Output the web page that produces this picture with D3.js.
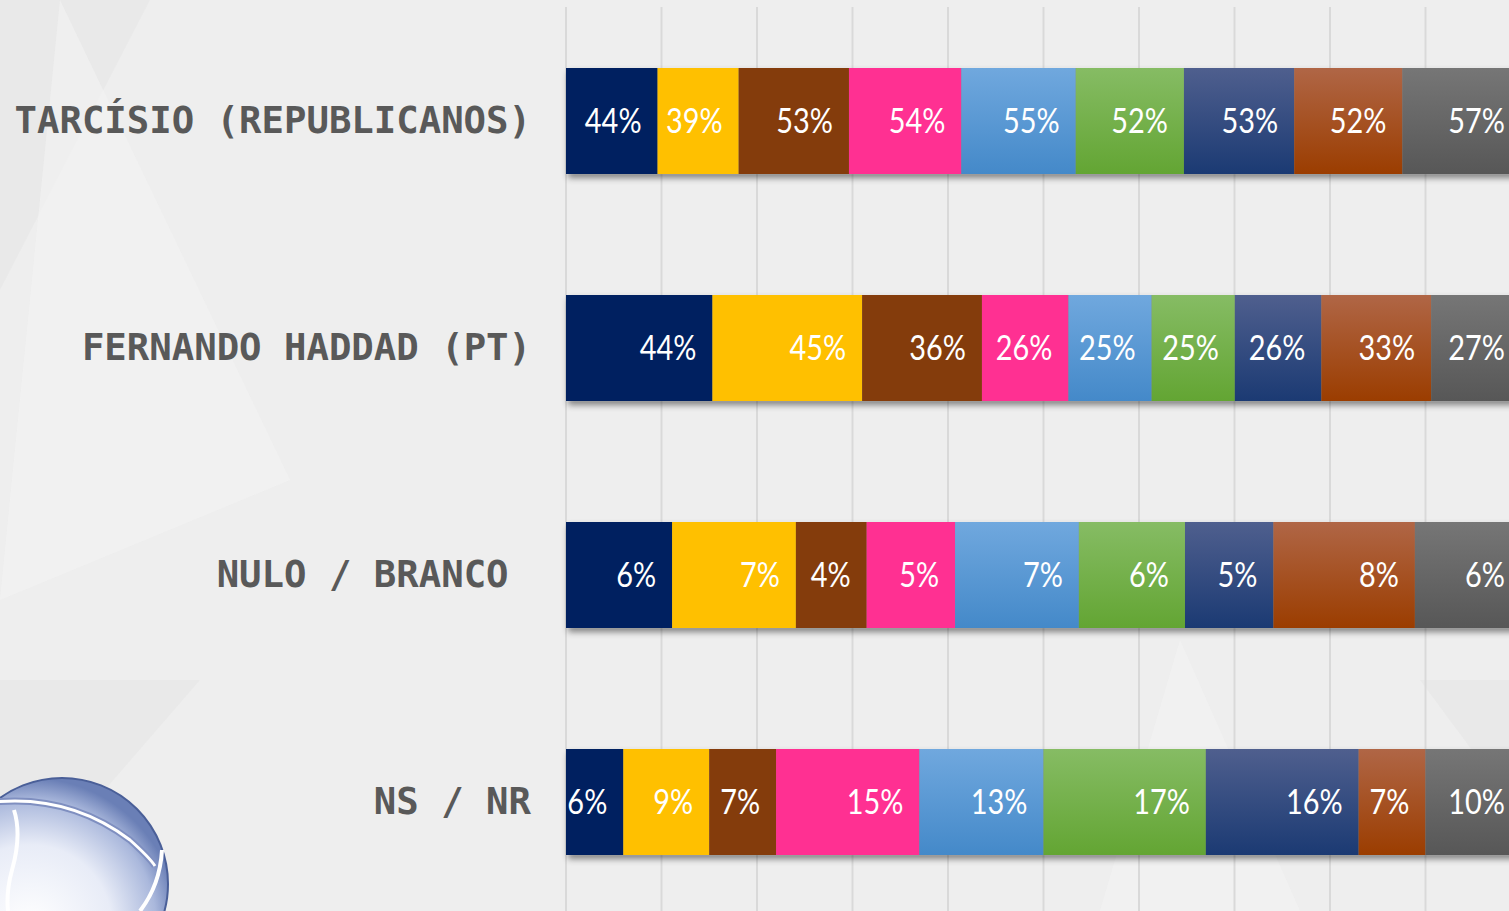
<!DOCTYPE html>
<html>
<head>
<meta charset="utf-8">
<script src="https://cdn.jsdelivr.net/npm/d3@7"></script>
<style>
  html, body { margin: 0; padding: 0; background: #efefef; overflow: hidden; }
</style>
</head>
<body>
<div id="chart-area"></div>
<script>
// categories (rows) and one value array per series (segment of each bar)
const categories = ["TARCÍSIO (REPUBLICANOS)", "FERNANDO HADDAD (PT)", "NULO / BRANCO\u00a0", "NS / NR"];
const seriesNames = ["s1", "s2", "s3", "s4", "s5", "s6", "s7", "s8", "s9"];
const s1 = [44, 44, 6, 6];
const s2 = [39, 45, 7, 9];
const s3 = [53, 36, 4, 7];
const s4 = [54, 26, 5, 15];
const s5 = [55, 25, 7, 13];
const s6 = [52, 25, 6, 17];
const s7 = [53, 26, 5, 16];
const s8 = [52, 33, 8, 7];
const s9 = [57, 27, 6, 10];
const seriesValues = [s1, s2, s3, s4, s5, s6, s7, s8, s9];

// [top, bottom] colours, same value = flat fill
const colors = [
    ["#002060", "#002060"],
    ["#ffc000", "#ffc000"],
    ["#843c0c", "#843c0c"],
    ["#ff3092", "#ff3092"],
    ["#70a8de", "#4489c9"],
    ["#86bc64", "#63a533"],
    ["#4f5f8e", "#1b3a73"],
    ["#b06646", "#9b3d00"],
    ["#767676", "#575757"]
];

const W = 1509, H = 911;

const svg = d3.select("#chart-area")
    .append("svg")
    .attr("width", W)
    .attr("height", H);

const defs = svg.append("defs");

colors.forEach((c, i) => {
    const lg = defs.append("linearGradient")
        .attr("id", "grad" + i)
        .attr("x1", 0).attr("y1", 0).attr("x2", 0).attr("y2", 1);
    lg.append("stop").attr("offset", "0%").attr("stop-color", c[0]);
    lg.append("stop").attr("offset", "100%").attr("stop-color", c[1]);
});

const shadow = defs.append("filter")
    .attr("id", "shadow")
    .attr("x", "-5%").attr("y", "-20%")
    .attr("width", "115%").attr("height", "150%");
shadow.append("feDropShadow")
    .attr("dx", 2).attr("dy", 4)
    .attr("stdDeviation", 3)
    .attr("flood-color", "#000")
    .attr("flood-opacity", 0.45);

const sphere = defs.append("radialGradient")
    .attr("id", "sphere")
    .attr("cx", "35%").attr("cy", "70%").attr("r", "70%");
sphere.append("stop").attr("offset", "0%").attr("stop-color", "#ffffff");
sphere.append("stop").attr("offset", "55%").attr("stop-color", "#e8ecf7");
sphere.append("stop").attr("offset", "85%").attr("stop-color", "#aab8dc");
sphere.append("stop").attr("offset", "100%").attr("stop-color", "#6a7fb6");

// background: faint facets
const bg = svg.append("g");
bg.append("rect").attr("width", W).attr("height", H).attr("fill", "#eeeeee");
const facets = [
    [[0, 0], [150, 0], [0, 290]],
    [[60, 0], [290, 480], [0, 600]],
    [[0, 680], [200, 680], [0, 911]],
    [[1180, 640], [1300, 911], [1100, 911]],
    [[1420, 680], [1509, 680], [1509, 800]]
];
bg.selectAll("polygon")
    .data(facets)
    .enter()
    .append("polygon")
    .attr("points", d => d.map(p => p.join(",")).join(" "))
    .attr("fill", (d, i) => i % 2 ? "#f4f4f4" : "#e6e6e6")
    .attr("opacity", 0.6);

// scales
const x = d3.scaleLinear()
    .domain([0, 1])
    .range([566, 1521]);

const y = d3.scaleBand()
    .domain(categories)
    .range([7.5, 915.5])
    .paddingInner(0.533)
    .paddingOuter(0.2665);

// gridlines
svg.append("g")
    .selectAll("line")
    .data(x.ticks(10))
    .enter()
    .append("line")
    .attr("x1", d => x(d)).attr("x2", d => x(d))
    .attr("y1", 7).attr("y2", H)
    .attr("stroke", "#d9d9d9")
    .attr("stroke-width", 2);

// stacked data, normalised per row
const table = categories.map((c, r) => {
    const row = { cat: c };
    seriesNames.forEach((s, i) => row[s] = seriesValues[i][r]);
    return row;
});

const stack = d3.stack()
    .keys(seriesNames)
    .offset(d3.stackOffsetExpand);
const stacked = stack(table);

// bar shadows as one rect per row
svg.append("g")
    .selectAll("rect")
    .data(categories)
    .enter()
    .append("rect")
    .attr("x", x(0))
    .attr("y", d => y(d))
    .attr("width", x(1) - x(0))
    .attr("height", y.bandwidth())
    .attr("fill", "#888")
    .attr("filter", "url(#shadow)");

const layers = svg.append("g")
    .selectAll("g")
    .data(stacked)
    .enter()
    .append("g")
    .attr("fill", (d, i) => `url(#grad${i})`);

layers.selectAll("rect")
    .data(d => d)
    .enter()
    .append("rect")
    .attr("x", d => x(d[0]))
    .attr("y", d => y(d.data.cat))
    .attr("width", d => x(d[1]) - x(d[0]))
    .attr("height", y.bandwidth());

// value labels, inside end, slightly condensed like the original
layers.selectAll("text")
    .data(d => d.map(p => ({ p, key: d.key })))
    .enter()
    .append("text")
    .attr("transform", d => `translate(${x(d.p[1]) - 16},${y(d.p.data.cat) + y.bandwidth() / 2 + 12}) scale(0.85,1)`)
    .attr("text-anchor", "end")
    .attr("fill", "#fff")
    .attr("font-family", "Lato, 'Open Sans', sans-serif")
    .attr("font-size", "34px")
    .text(d => d.p.data[d.key] + "%");

// category labels
svg.append("g")
    .selectAll("text")
    .data(categories)
    .enter()
    .append("text")
    .attr("x", 531)
    .attr("y", d => y(d) + y.bandwidth() / 2 + 12)
    .attr("text-anchor", "end")
    .attr("fill", "#595959")
    .attr("font-family", "'DejaVu Sans Mono', monospace")
    .attr("font-weight", "bold")
    .attr("font-size", "37.3px")
    .style("white-space", "pre")
    .text(d => d);

// logo sphere, bottom left
const logo = svg.append("g");
logo.append("circle")
    .attr("cx", 62).attr("cy", 884).attr("r", 106)
    .attr("fill", "url(#sphere)")
    .attr("stroke", "#4a5f98")
    .attr("stroke-width", 2);
logo.append("path")
    .attr("d", "M -5 802 Q 70 795 130 840 Q 150 858 155 866")
    .attr("fill", "none")
    .attr("stroke", "#7f8fc0")
    .attr("stroke-width", 7);
logo.append("path")
    .attr("d", "M -5 802 Q 70 795 130 840 Q 150 858 155 866")
    .attr("fill", "none")
    .attr("stroke", "#ffffff")
    .attr("stroke-width", 3);
logo.append("path")
    .attr("d", "M 14 810 Q 22 835 12 870 Q 6 892 8 911")
    .attr("fill", "none")
    .attr("stroke", "#ffffff")
    .attr("stroke-width", 4);
logo.append("path")
    .attr("d", "M 162 850 Q 160 885 140 911")
    .attr("fill", "none")
    .attr("stroke", "#ffffff")
    .attr("stroke-width", 4);
</script>
</body>
</html>
